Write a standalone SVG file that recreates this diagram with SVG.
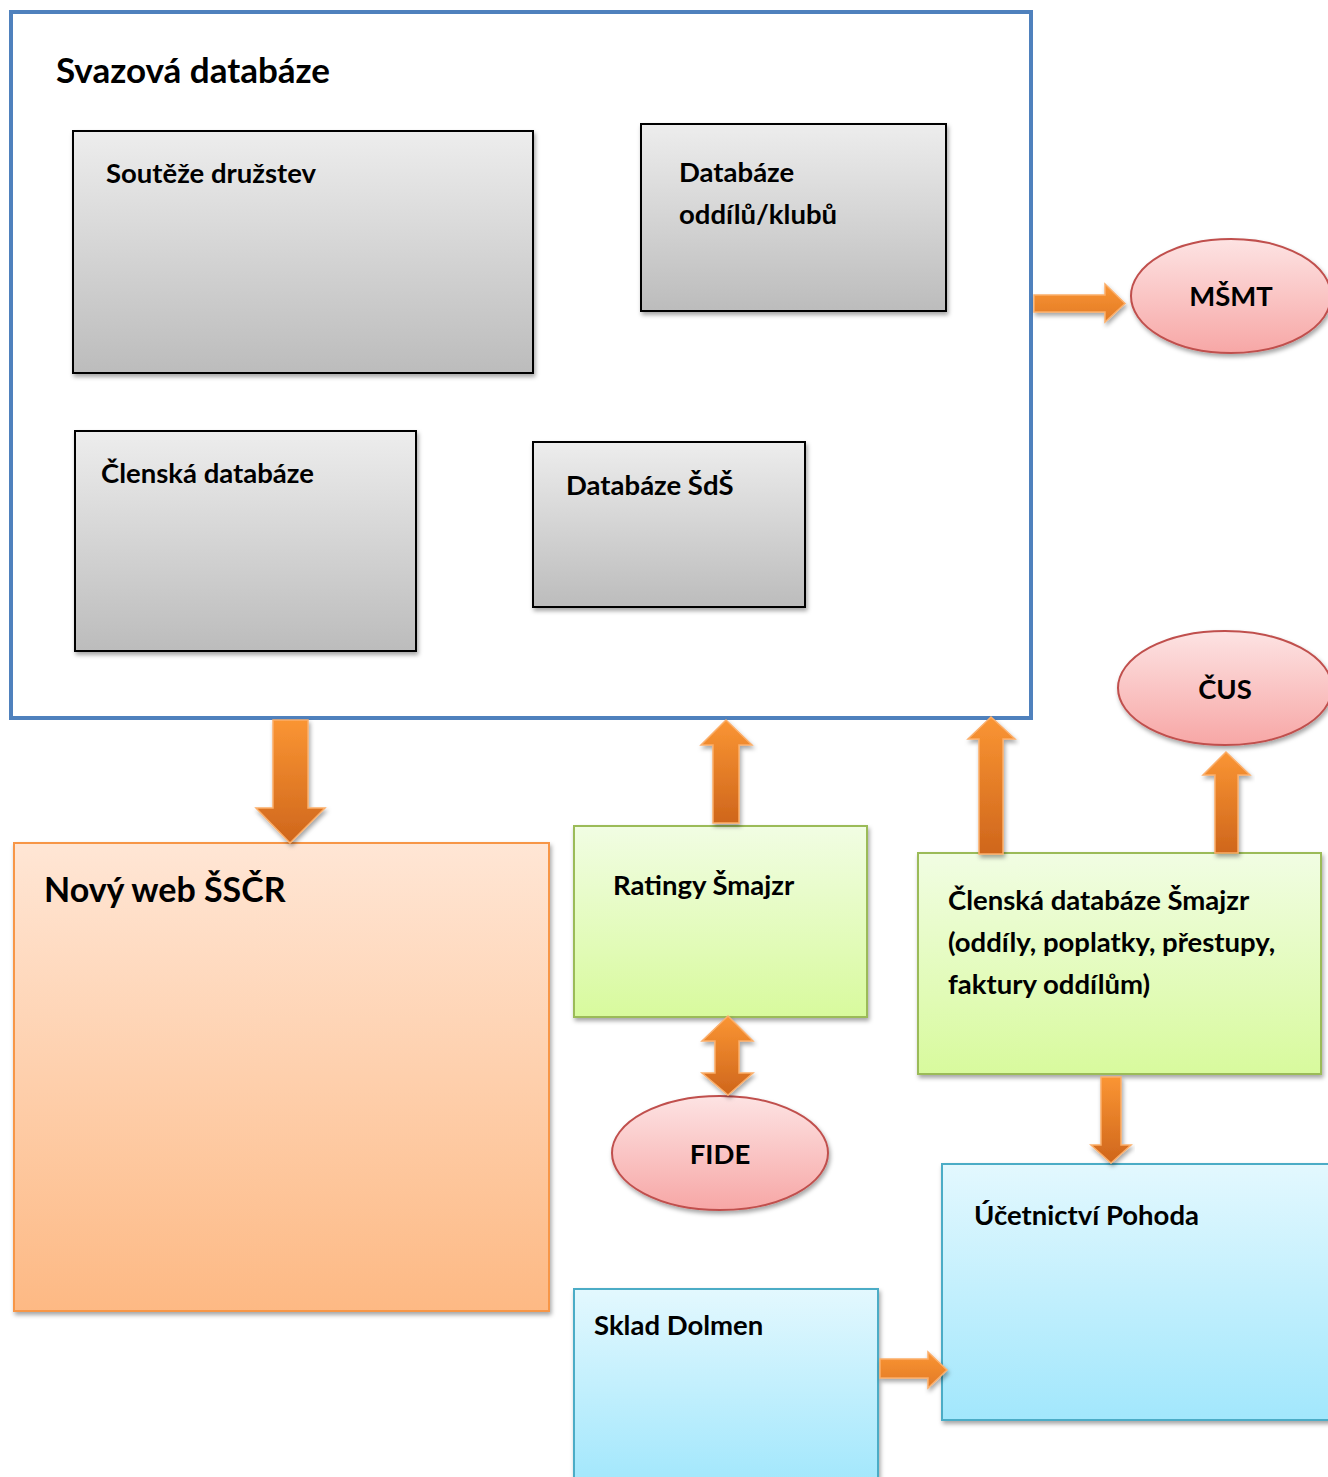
<svg xmlns="http://www.w3.org/2000/svg" width="1328" height="1477" viewBox="0 0 1328 1477">
<defs>
<linearGradient id="gGray" x1="0" y1="0" x2="0" y2="1"><stop offset="0" stop-color="#ededed"/><stop offset="1" stop-color="#bcbcbc"/></linearGradient>
<linearGradient id="gOrange" x1="0" y1="0" x2="0" y2="1"><stop offset="0" stop-color="#ffe6d5"/><stop offset="1" stop-color="#fdb984"/></linearGradient>
<linearGradient id="gGreen" x1="0" y1="0" x2="0" y2="1"><stop offset="0" stop-color="#f1fde3"/><stop offset="1" stop-color="#d8fa9d"/></linearGradient>
<linearGradient id="gBlue" x1="0" y1="0" x2="0" y2="1"><stop offset="0" stop-color="#e3f8fe"/><stop offset="1" stop-color="#a2e7fc"/></linearGradient>
<linearGradient id="gPink" x1="0" y1="0" x2="0" y2="1"><stop offset="0" stop-color="#fde3e3"/><stop offset="1" stop-color="#f7a7a6"/></linearGradient>
<linearGradient id="gArrV" x1="0" y1="0" x2="0" y2="1"><stop offset="0" stop-color="#fa9533"/><stop offset="1" stop-color="#cf661c"/></linearGradient>
<linearGradient id="gArrVu" x1="0" y1="1" x2="0" y2="0"><stop offset="0" stop-color="#cf661c"/><stop offset="1" stop-color="#fa9533"/></linearGradient>
<linearGradient id="gArrH" x1="0" y1="0" x2="0" y2="1"><stop offset="0" stop-color="#fa9533"/><stop offset="1" stop-color="#e27a26"/></linearGradient>
<filter id="sh" x="-10%" y="-10%" width="120%" height="130%"><feDropShadow dx="1.5" dy="3" stdDeviation="2" flood-color="#000" flood-opacity="0.35"/></filter>
</defs>
<style>
text{font-family:Lato,"Liberation Sans",sans-serif;font-weight:bold;fill:#000;}
.t{font-size:27.5px;}
.gray{fill:url(#gGray);stroke:#000;stroke-width:2;filter:url(#sh);}
.orange{fill:url(#gOrange);stroke:#f79646;stroke-width:2;filter:url(#sh);}
.green{fill:url(#gGreen);stroke:#9bbb59;stroke-width:2;filter:url(#sh);}
.blue{fill:url(#gBlue);stroke:#4bacc6;stroke-width:2;filter:url(#sh);}
.pink{fill:url(#gPink);stroke:#c0504d;stroke-width:2;filter:url(#sh);}
.arr{stroke:#fbae6a;stroke-width:1.5;filter:url(#sh);}
</style>
<rect width="1328" height="1477" fill="#fff"/>

<g id="svazova">
<rect x="11" y="12" width="1020" height="706" fill="#fff" stroke="#4f81bd" stroke-width="4"/>
<text x="56" y="83" font-size="35">Svazová databáze</text>
</g>
<g id="souteze">
<rect class="gray" x="73" y="131" width="460" height="242"/>
<text class="t" x="106" y="183">Soutěže družstev</text>
</g>
<g id="databaze-oddilu">
<rect class="gray" x="641" y="124" width="305" height="187"/>
<text class="t" x="679" y="182">Databáze</text>
<text class="t" x="679" y="224">oddílů/klubů</text>
</g>
<g id="clenska">
<rect class="gray" x="75" y="431" width="341" height="220"/>
<text class="t" x="101" y="483">Členská databáze</text>
</g>
<g id="sds">
<rect class="gray" x="533" y="442" width="272" height="165"/>
<text class="t" x="566" y="495">Databáze ŠdŠ</text>
</g>
<g id="msmt">
<ellipse class="pink" cx="1231" cy="296" rx="100" ry="57"/>
<text class="t" x="1231" y="306" text-anchor="middle">MŠMT</text>
</g>
<g id="cus">
<ellipse class="pink" cx="1225" cy="688" rx="107" ry="57"/>
<text class="t" x="1225" y="699" text-anchor="middle">ČUS</text>
</g>
<g id="novy-web">
<rect class="orange" x="14" y="843" width="535" height="468"/>
<text x="44" y="902" font-size="34">Nový web ŠSČR</text>
</g>
<g id="ratingy">
<rect class="green" x="574" y="826" width="293" height="191"/>
<text class="t" x="613" y="895">Ratingy Šmajzr</text>
</g>
<g id="clenska-smajzr">
<rect class="green" x="918" y="853" width="403" height="221"/>
<text class="t" x="948" y="910">Členská databáze Šmajzr</text>
<text class="t" x="948" y="952">(oddíly, poplatky, přestupy,</text>
<text class="t" x="948" y="994">faktury oddílům)</text>
</g>
<g id="fide">
<ellipse class="pink" cx="720" cy="1153" rx="108" ry="57"/>
<text class="t" x="720" y="1164" text-anchor="middle">FIDE</text>
</g>
<g id="pohoda">
<rect class="blue" x="942" y="1164" width="392" height="256"/>
<text class="t" x="974" y="1225">Účetnictví Pohoda</text>
</g>
<g id="sklad">
<rect class="blue" x="574" y="1289" width="304" height="195"/>
<text class="t" x="594" y="1335">Sklad Dolmen</text>
</g>

<g id="connectors">
<polygon class="arr" fill="url(#gArrH)" points="1034,295 1105,295 1105,284 1125,303.5 1105,322 1105,312 1034,312"/>
<polygon class="arr" fill="url(#gArrV)" points="273,720 308,720 308,808 325,808 290,843 256,808 273,808"/>
<polygon class="arr" fill="url(#gArrVu)" points="713,823 739,823 739,745 752,745 726,720 701,745 713,745"/>
<polygon class="arr" fill="url(#gArrVu)" points="979,854 1003,854 1003,739 1015,739 991,717 968,739 979,739"/>
<polygon class="arr" fill="url(#gArrVu)" points="1215,853 1238,853 1238,775 1250,775 1226,752 1203,775 1215,775"/>
<polygon class="arr" fill="url(#gArrV)" points="728,1016 753,1041 739,1041 739,1073 753,1073 728,1095 702,1073 715,1073 715,1041 702,1041"/>
<polygon class="arr" fill="url(#gArrV)" points="1101,1077 1121,1077 1121,1145 1131,1145 1111,1163 1091,1145 1101,1145"/>
<polygon class="arr" fill="url(#gArrH)" points="880,1359 928,1359 928,1352 947,1370 928,1388 928,1378 880,1378"/>
</g>
</svg>
